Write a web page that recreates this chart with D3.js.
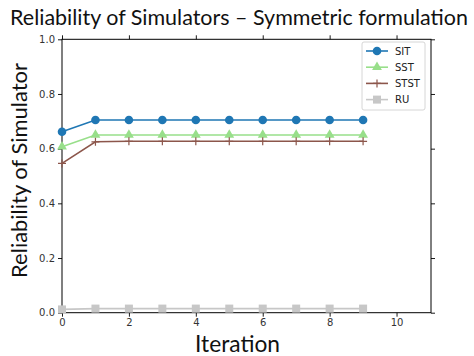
<!DOCTYPE html>
<html><head><meta charset="utf-8">
<script src="https://cdn.jsdelivr.net/npm/d3@7"></script>
<style>body{margin:0;background:#fff}svg{display:block}</style>
</head><body>
<svg id="c" width="474" height="356"></svg>
<script>
const iterations = [0,1,2,3,4,5,6,7,8,9];
const sit  = [0.662,0.705,0.705,0.705,0.705,0.705,0.705,0.705,0.705,0.705];
const sst  = [0.607,0.650,0.650,0.650,0.650,0.650,0.650,0.650,0.650,0.650];
const stst = [0.546,0.625,0.627,0.627,0.627,0.627,0.627,0.627,0.627,0.627];
const ru   = [0.012,0.015,0.015,0.015,0.015,0.015,0.015,0.015,0.015,0.015];
const seriesNames = ["SIT","SST","STST","RU"];
const xTicks = [0,2,4,6,8,10];
const yTicks = [0,0.2,0.4,0.6,0.8,1.0];
const titleText = "Reliability of Simulators \u2013 Symmetric formulation";
const xLabel = "Iteration", yLabel = "Reliability of Simulator";

const svg = d3.select("#c");
const L=62, R=431, T=39.3, B=312.7;
const x = d3.scaleLinear().domain([0,11.03]).range([L,R]);
const y = d3.scaleLinear().domain([0,1]).range([B,T]);
const tickFont = "DejaVu Sans, sans-serif";
const labFont = "Lato, 'Open Sans', sans-serif";

function fit(sel, w){ const n=sel.node(); const cur=n.getComputedTextLength(); const fs=parseFloat(sel.attr("font-size")); sel.attr("font-size", fs*w/cur); }

const t = svg.append("text").attr("x",239).attr("y",25).attr("text-anchor","middle").attr("font-family",labFont).attr("font-size",20).attr("fill","#111").text(titleText);
fit(t,458);

// axes
const xa = svg.append("g").attr("transform",`translate(0,${B})`).call(d3.axisBottom(x).tickValues(xTicks).tickSize(4).tickPadding(2).tickFormat(d3.format("d")));
const xt = svg.append("g").attr("transform",`translate(0,${T})`).call(d3.axisTop(x).tickValues(xTicks).tickSize(4));
const ya = svg.append("g").attr("transform",`translate(${L},0)`).call(d3.axisLeft(y).tickValues(yTicks).tickSize(4).tickPadding(3).tickFormat(d3.format(".1f")));
const yr = svg.append("g").attr("transform",`translate(${R},0)`).call(d3.axisRight(y).tickValues(yTicks).tickSize(4));
xt.selectAll("text").remove(); yr.selectAll("text").remove();
[xa,xt,ya,yr].forEach(g=>{ g.select(".domain").remove(); g.selectAll("line").attr("stroke","#000").attr("stroke-width",0.9); g.selectAll("text").attr("font-family",tickFont).attr("font-size",10).attr("fill","#333"); });
svg.append("rect").attr("x",L).attr("y",T).attr("width",R-L).attr("height",B-T).attr("fill","none").attr("stroke","#000").attr("stroke-width",1);

const series = [
 {name:seriesNames[0], vals:sit, color:"#1f77b4", marker:"circle"},
 {name:seriesNames[1], vals:sst, color:"#98df8a", marker:"triangle"},
 {name:seriesNames[2], vals:stst, color:"#8c564b", marker:"plus"},
 {name:seriesNames[3], vals:ru, color:"#c7c7c7", marker:"square"}
];
function drawMarker(g, m, cx, cy, color){
  if(m==="circle") g.append("circle").attr("cx",cx).attr("cy",cy).attr("r",4.3).attr("fill",color);
  else if(m==="triangle") g.append("path").attr("d",d3.symbol(d3.symbolTriangle,42)()).attr("transform",`translate(${cx},${cy})`).attr("fill",color);
  else if(m==="plus") g.append("path").attr("d",`M${cx-4},${cy}H${cx+4}M${cx},${cy-4}V${cy+4}`).attr("stroke",color).attr("stroke-width",1.2);
  else if(m==="square") g.append("rect").attr("x",cx-4).attr("y",cy-4).attr("width",8).attr("height",8).attr("fill",color);
}
const line = d3.line().x((d,i)=>x(iterations[i])).y(d=>y(d));
const plot = svg.append("g");
series.forEach(s=>{
  const g = plot.append("g");
  g.append("path").datum(s.vals).attr("d",line).attr("fill","none").attr("stroke",s.color).attr("stroke-width",1.6);
  s.vals.forEach((v,i)=>drawMarker(g,s.marker,x(iterations[i]),y(v),s.color));
});
// legend
const lg = svg.append("g");
lg.append("rect").attr("x",362).attr("y",42).attr("width",63).attr("height",68).attr("rx",2).attr("fill","#fff").attr("stroke","#ccc").attr("stroke-width",0.8);
series.forEach((s,i)=>{
  const yy = 51 + i*16.2;
  lg.append("line").attr("x1",366).attr("x2",388).attr("y1",yy).attr("y2",yy).attr("stroke",s.color).attr("stroke-width",1.6);
  drawMarker(lg,s.marker,377,yy,s.color);
  lg.append("text").attr("x",395).attr("y",yy+3.5).attr("font-family",tickFont).attr("font-size",10).attr("fill","#222").text(s.name);
});
// axis labels
const xl = svg.append("text").attr("x",237.5).attr("y",351.5).attr("text-anchor","middle").attr("font-family",labFont).attr("font-size",20).attr("fill","#111").text(xLabel);
fit(xl,85);
const yl = svg.append("text").attr("transform","translate(27,170.5) rotate(-90)").attr("text-anchor","middle").attr("font-family",labFont).attr("font-size",19).attr("fill","#111").text(yLabel);
fit(yl,215);
</script>
</body></html>
